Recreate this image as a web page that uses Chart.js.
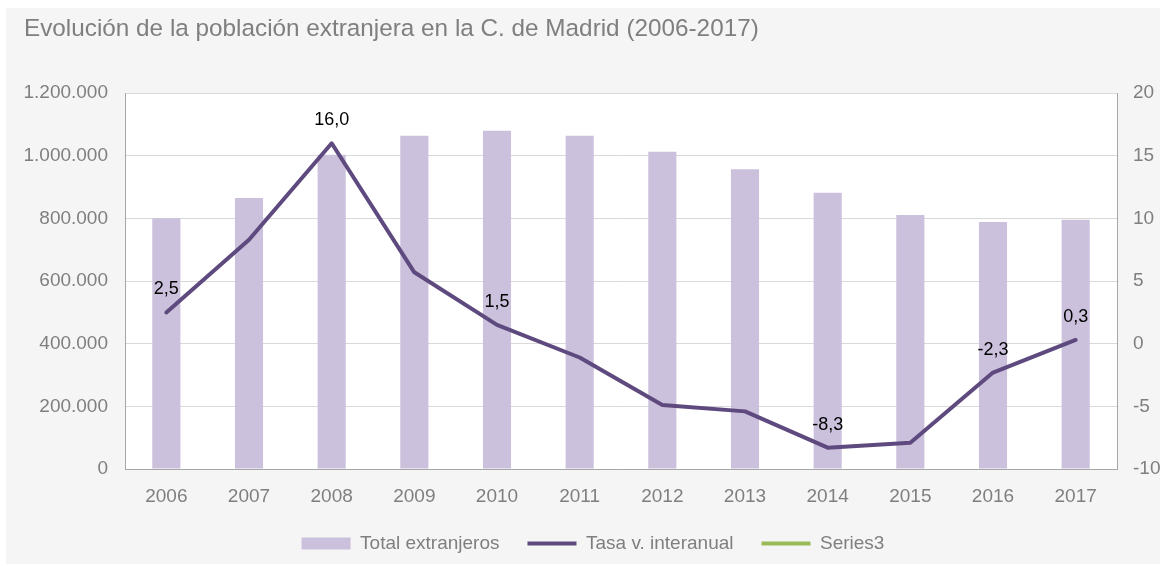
<!DOCTYPE html>
<html lang="es">
<head>
<meta charset="utf-8">
<title>Evolución de la población extranjera en la C. de Madrid (2006-2017)</title>
<script src="https://cdn.jsdelivr.net/npm/chart.js@4.4.1/dist/chart.umd.min.js"></script>
<style>
    html, body { margin: 0; padding: 0; background: #ffffff; }
    #wrap { width: 1162px; height: 566px; }
</style>
</head>
<body>
<div id="wrap"><canvas id="grafico" width="1162" height="566"></canvas></div>
<script>
// años del eje x
const anios = ['2006', '2007', '2008', '2009', '2010', '2011', '2012', '2013', '2014', '2015', '2016', '2017'];
// total de extranjeros (eje izquierdo)
const totalExtranjeros = [801000, 865000, 1003000, 1064000, 1080000, 1064000, 1013000, 957000, 882000, 811000, 789000, 796000];
// tasa de variación interanual en % (eje derecho)
const tasaInteranual = [2.5, 8.3, 16.0, 5.7, 1.5, -1.1, -4.9, -5.4, -8.3, -7.9, -2.3, 0.3];
// serie vacía que sale en la leyenda
const series3 = [];
// puntos de la tasa que llevan etiqueta
const conEtiqueta = [0, 2, 4, 8, 10, 11];

const miles = v => String(v).replace(/\B(?=(\d{3})+(?!\d))/g, '.');
const coma = v => v.toFixed(1).replace('.', ',');

const fondo = {
    id: 'fondo',
    beforeDraw(chart) {
        const { ctx, chartArea } = chart;
        ctx.save();
        ctx.fillStyle = '#ffffff';
        ctx.fillRect(0, 0, chart.width, chart.height);
        ctx.fillStyle = '#f5f5f5';
        ctx.fillRect(6, 8, chart.width - 8, chart.height - 10);
        ctx.fillStyle = '#ffffff';
        ctx.fillRect(chartArea.left, chartArea.top, chartArea.right - chartArea.left, chartArea.bottom - chartArea.top);
        ctx.restore();
    }
};

const etiquetas = {
    id: 'etiquetas',
    afterDatasetsDraw(chart) {
        const meta = chart.getDatasetMeta(1);
        const ctx = chart.ctx;
        ctx.save();
        ctx.font = '18px "Liberation Sans", Arial, sans-serif';
        ctx.fillStyle = '#000000';
        ctx.textAlign = 'center';
        ctx.textBaseline = 'middle';
        conEtiqueta.forEach(i => {
            const p = meta.data[i];
            ctx.fillText(coma(tasaInteranual[i]), p.x, p.y - 23);
        });
        ctx.restore();
    }
};

const fuente = '"Liberation Sans", Arial, sans-serif';

const grafico = new Chart(document.getElementById('grafico').getContext('2d'), {
    type: 'bar',
    data: {
        labels: anios,
        datasets: [
            {
                type: 'bar',
                label: 'Total extranjeros',
                data: totalExtranjeros,
                backgroundColor: '#cbc1dc',
                borderWidth: 0,
                barPercentage: 0.34,
                categoryPercentage: 1,
                yAxisID: 'y',
                order: 2,
            },
            {
                type: 'line',
                label: 'Tasa v. interanual',
                data: tasaInteranual,
                borderColor: '#5e4a7e',
                backgroundColor: '#5e4a7e',
                borderWidth: 4,
                borderCapStyle: 'round',
                borderJoinStyle: 'round',
                pointRadius: 0,
                tension: 0,
                yAxisID: 'y2',
                order: 1,
            },
            {
                type: 'line',
                label: 'Series3',
                data: series3,
                borderColor: '#9bbb59',
                backgroundColor: '#9bbb59',
                borderWidth: 4,
                borderCapStyle: 'round',
                pointRadius: 0,
                yAxisID: 'y2',
                order: 3,
            },
        ],
    },
    options: {
        responsive: false,
        animation: false,
        layout: {
            padding: { left: 24, right: 0, top: 0, bottom: 0 },
        },
        scales: {
            x: {
                afterFit(scale) { scale.height = 37; },
                grid: { display: false, drawTicks: false },
                border: { color: '#a6a6a6', width: 1 },
                ticks: { color: '#7f7f7f', font: { family: fuente, size: 19 }, padding: 16 },
            },
            y: {
                position: 'left',
                min: 0,
                max: 1200000,
                afterFit(scale) { scale.width = 101; },
                grid: { color: '#d9d9d9', drawTicks: false },
                border: { color: '#a6a6a6', width: 1 },
                ticks: {
                    stepSize: 200000,
                    color: '#7f7f7f',
                    font: { family: fuente, size: 19 },
                    padding: 17,
                    callback: v => miles(v),
                },
            },
            y2: {
                position: 'right',
                min: -10,
                max: 20,
                afterFit(scale) { scale.width = 45; },
                grid: { display: false, drawTicks: false },
                border: { color: '#a6a6a6', width: 1 },
                ticks: {
                    stepSize: 5,
                    color: '#7f7f7f',
                    font: { family: fuente, size: 19 },
                    padding: 16,
                },
            },
        },
        plugins: {
            title: {
                display: true,
                text: 'Evolución de la población extranjera en la C. de Madrid (2006-2017)',
                align: 'start',
                color: '#7f7f7f',
                font: { family: fuente, size: 24.3, weight: 'normal' },
                padding: { top: 15, bottom: 49 },
            },
            legend: {
                position: 'bottom',
                labels: {
                    color: '#7f7f7f',
                    font: { family: fuente, size: 19 },
                    usePointStyle: true,
                    pointStyleWidth: 49,
                    boxHeight: 12,
                    padding: 28,
                    sort: (a, b) => a.datasetIndex - b.datasetIndex,
                    generateLabels(chart) {
                        const items = Chart.defaults.plugins.legend.labels.generateLabels(chart);
                        items.forEach(it => {
                            it.pointStyle = it.datasetIndex === 0 ? 'rect' : 'line';
                        });
                        return items;
                    },
                },
            },
            tooltip: { enabled: false },
        },
    },
    plugins: [fondo, etiquetas],
});

// la leyenda ocupa menos alto que el que calcula Chart.js
const fitLeyenda = grafico.legend.fit;
grafico.legend.fit = function() {
    fitLeyenda.call(this);
    this.height = 60;
};
grafico.update();
</script>
</body>
</html>
